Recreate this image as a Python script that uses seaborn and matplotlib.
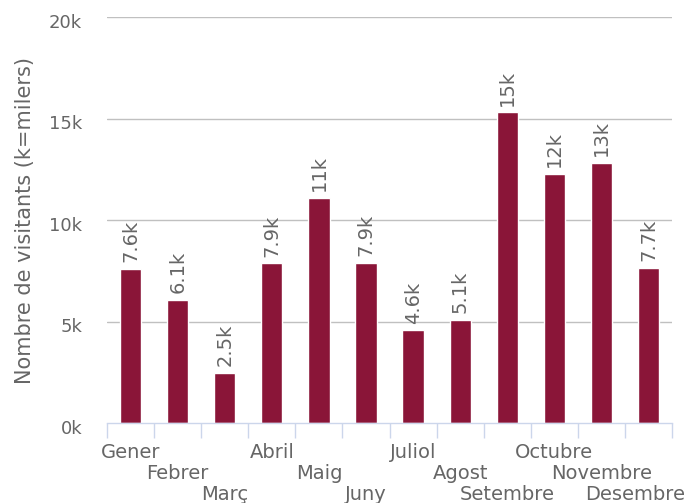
import matplotlib
matplotlib.use("Agg")
import matplotlib.pyplot as plt
import matplotlib.transforms as mtransforms
import seaborn as sns
import pandas as pd

# Monthly visitors
months = ['Gener', 'Febrer', 'Març', 'Abril', 'Maig', 'Juny',
          'Juliol', 'Agost', 'Setembre', 'Octubre', 'Novembre', 'Desembre']
visitors = [7580, 6080, 2460, 7860, 11100, 7900,
            4560, 5060, 15300, 12250, 12800, 7660]
y_ticks = [0, 5000, 10000, 15000, 20000]
y_tick_labels = ['0k', '5k', '10k', '15k', '20k']

df = pd.DataFrame({'Mes': months, 'Visitants': visitors})

sns.set_style('white')
plt.rcParams['font.family'] = ['DejaVu Sans']
fig = plt.figure(figsize=(6.91, 5.03), dpi=100)
ax = fig.add_axes([0.155, 0.159, 0.8175, 0.807])

sns.barplot(data=df, x='Mes', y='Visitants', color='#8a1538', width=0.45,
            saturation=1, ax=ax)

# value labels, rotated
labels = [f"{v/1000:.0f}k" if v >= 10000 else f"{v/1000:.1f}k" for v in visitors]
ax.bar_label(ax.containers[0], labels=labels, rotation=90, padding=5,
             color='#666666', fontsize=14)

ax.set_ylim(0, 20000)
ax.set_xlim(-0.5, len(months) - 0.5)
ax.set_yticks(y_ticks)
ax.set_yticklabels(y_tick_labels)
ax.tick_params(axis='y', length=0, pad=18, labelsize=13, labelcolor='#666666')
for y in y_ticks[1:]:
    ax.axhline(y, color='#c0c0c0', lw=1, zorder=0)
# y labels sit a little below their gridlines
for lab in ax.get_yticklabels():
    lab.set_transform(lab.get_transform() +
                      mtransforms.ScaledTranslation(0, -0.035, fig.dpi_scale_trans))

# staggered month labels
stagger = [m if i % 3 == 0 else ('\n' + m if i % 3 == 1 else '\n\n' + m)
           for i, m in enumerate(months)]
ax.set_xticks(range(len(months)))
ax.set_xticklabels(stagger, linespacing=1.13)
ax.tick_params(axis='x', which='major', length=0, pad=14.5, labelsize=14,
               labelcolor='#666666')
ax.set_xticks([i - 0.5 for i in range(len(months) + 1)], minor=True)
ax.tick_params(axis='x', which='minor', bottom=True, length=11, width=1,
               color='#ccd6eb')

# keep the last label mostly inside the figure
last = ax.get_xticklabels()[-1]
last.set_transform(last.get_transform() +
                   mtransforms.ScaledTranslation(-0.13, 0, fig.dpi_scale_trans))

for s in ['top', 'right', 'left']:
    ax.spines[s].set_visible(False)
ax.spines['bottom'].set_color('#ccd6eb')
ax.spines['bottom'].set_linewidth(1)

ax.set_xlabel('')
ax.set_ylabel('Nombre de visitants (k=milers)', color='#666666', fontsize=15,
              labelpad=10)

fig.savefig('out.png', dpi=100)
